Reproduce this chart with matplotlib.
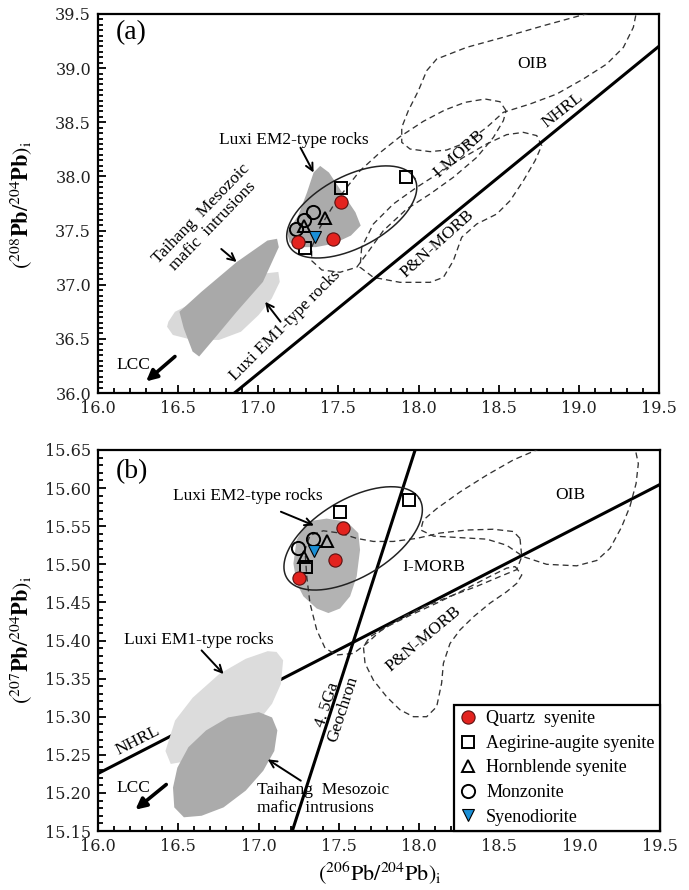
import numpy as np
import matplotlib
matplotlib.use('Agg')
import matplotlib.pyplot as plt
from matplotlib.patches import Polygon
from matplotlib.lines import Line2D
from matplotlib.ticker import MultipleLocator, FormatStrFormatter

plt.rcParams['mathtext.fontset'] = 'stix'
SERIF = 'Liberation Serif'
TICKFONT = 'DejaVu Serif'

# ---------------- panel (a): 206Pb/204Pb vs 208Pb/204Pb ----------------
a_qs_x = [17.246, 17.468, 17.516]
a_qs_y = [37.397, 37.419, 37.767]
a_aeg_x = [17.293, 17.516, 17.920]
a_aeg_y = [37.336, 37.890, 37.992]
a_hb_x = [17.287, 17.416]
a_hb_y = [37.540, 37.620]
a_mz_x = [17.235, 17.285, 17.343]
a_mz_y = [37.511, 37.598, 37.674]
a_sd_x = [17.356]
a_sd_y = [37.444]

a_taihang_x = [16.508, 16.645, 16.865, 17.057, 17.117, 17.128, 17.029, 16.865, 16.727, 16.631, 16.590, 16.535]
a_taihang_y = [36.750, 36.934, 37.209, 37.408, 37.424, 37.347, 37.026, 36.750, 36.505, 36.337, 36.383, 36.597]
a_em1_x = [16.439, 16.480, 16.645, 16.865, 17.029, 17.125, 17.134, 17.084, 17.002, 16.892, 16.755, 16.590, 16.467, 16.431]
a_em1_y = [36.658, 36.750, 36.873, 36.995, 37.102, 37.118, 37.026, 36.873, 36.720, 36.566, 36.490, 36.490, 36.536, 36.612]
a_em2_x = [17.386, 17.441, 17.523, 17.606, 17.639, 17.578, 17.469, 17.359, 17.249, 17.194, 17.180, 17.249, 17.304, 17.345]
a_em2_y = [38.097, 38.036, 37.852, 37.669, 37.546, 37.454, 37.378, 37.347, 37.347, 37.393, 37.485, 37.638, 37.852, 38.036]
a_oib_x = [19.12, 18.779, 18.529, 18.300, 18.113, 18.051, 17.999, 17.936, 17.895, 17.895, 17.947, 18.072, 18.176, 18.300,
           18.425, 18.529, 18.696, 18.862, 19.028, 19.174, 19.278, 19.340, 19.361]
a_oib_y = [39.531, 39.392, 39.285, 39.192, 39.084, 38.977, 38.792, 38.607, 38.453, 38.315, 38.253, 38.229, 38.244, 38.315,
           38.453, 38.592, 38.669, 38.761, 38.900, 39.038, 39.192, 39.377, 39.531]
a_imorb_x = [18.546, 18.508, 18.415, 18.290, 18.165, 18.030, 17.884, 17.749, 17.635, 17.552, 17.468, 17.385, 17.333,
             17.333, 17.396, 17.510, 17.614, 17.676, 17.780, 17.926, 18.072, 18.217, 18.363, 18.467, 18.529]
a_imorb_y = [38.607, 38.690, 38.715, 38.684, 38.614, 38.509, 38.367, 38.207, 38.053, 37.899, 37.730, 37.530, 37.345,
             37.222, 37.136, 37.115, 37.161, 37.284, 37.499, 37.699, 37.838, 37.992, 38.176, 38.361, 38.515]
a_pnmorb_x = [17.645, 17.635, 17.718, 17.884, 18.072, 18.155, 18.217, 18.269, 18.363, 18.488, 18.571, 18.654, 18.727,
              18.768, 18.737, 18.654, 18.550, 18.425, 18.280, 18.134, 17.988, 17.843, 17.718]
a_pnmorb_y = [37.345, 37.161, 37.068, 37.022, 37.022, 37.068, 37.222, 37.438, 37.561, 37.653, 37.776, 37.961, 38.146,
              38.284, 38.377, 38.407, 38.386, 38.300, 38.176, 38.038, 37.899, 37.746, 37.561]
a_ell_center = (17.583, 37.672)
a_ell_tip = (17.975, 37.983)

# ---------------- panel (b): 206Pb/204Pb vs 207Pb/204Pb ----------------
b_qs_x = [17.254, 17.474, 17.523]
b_qs_y = [15.482, 15.506, 15.548]
b_aeg_x = [17.298, 17.505, 17.937]
b_aeg_y = [15.497, 15.568, 15.584]
b_hb_x = [17.280, 17.425]
b_hb_y = [15.510, 15.531]
b_mz_x = [17.248, 17.337]
b_mz_y = [15.521, 15.533]
b_sd_x = [17.348]
b_sd_y = [15.518]

b_em2_x = [17.300, 17.424, 17.549, 17.621, 17.632, 17.611, 17.570, 17.507, 17.435, 17.362, 17.279, 17.237, 17.217, 17.237]
b_em2_y = [15.556, 15.560, 15.556, 15.541, 15.519, 15.484, 15.458, 15.442, 15.436, 15.442, 15.458, 15.475, 15.501, 15.532]
b_em1_x = [17.057, 17.112, 17.153, 17.139, 17.084, 17.002, 16.865, 16.700, 16.563, 16.453, 16.420, 16.480, 16.590, 16.755, 16.920]
b_em1_y = [15.386, 15.385, 15.374, 15.343, 15.317, 15.295, 15.273, 15.255, 15.242, 15.238, 15.255, 15.295, 15.325, 15.356, 15.376]
b_taihang_x = [17.002, 17.084, 17.117, 17.098, 17.029, 16.920, 16.782, 16.645, 16.535, 16.475, 16.467, 16.494, 16.563, 16.673, 16.810]
b_taihang_y = [15.306, 15.299, 15.282, 15.255, 15.229, 15.203, 15.181, 15.170, 15.168, 15.181, 15.207, 15.233, 15.260, 15.282, 15.299]
b_oib_x = [18.753, 18.587, 18.421, 18.255, 18.109, 18.026, 18.010, 18.089, 18.255, 18.421, 18.545, 18.649, 18.794,
           18.981, 19.106, 19.189, 19.261, 19.313, 19.351, 19.365, 19.345]
b_oib_y = [15.652, 15.637, 15.617, 15.595, 15.573, 15.558, 15.545, 15.537, 15.535, 15.533, 15.525, 15.510, 15.500,
           15.498, 15.505, 15.521, 15.549, 15.576, 15.606, 15.632, 15.652]
b_imorb_x = [18.628, 18.587, 18.462, 18.296, 18.130, 17.985, 17.839, 17.715, 17.611, 17.507, 17.403, 17.320, 17.289,
             17.300, 17.320, 17.362, 17.414, 17.486, 17.590, 17.673, 17.756, 17.881, 18.026, 18.192, 18.358, 18.504,
             18.608, 18.639]
b_imorb_y = [15.534, 15.543, 15.546, 15.545, 15.541, 15.534, 15.530, 15.530, 15.534, 15.541, 15.544, 15.538, 15.519,
             15.484, 15.449, 15.414, 15.390, 15.381, 15.383, 15.396, 15.412, 15.429, 15.444, 15.458, 15.471, 15.484,
             15.493, 15.510]
b_pnmorb_x = [18.598, 18.639, 18.608, 18.545, 18.441, 18.338, 18.255, 18.192, 18.151, 18.140, 18.109, 18.047, 17.964,
              17.881, 17.798, 17.715, 17.663, 17.653, 17.694, 17.798, 17.943, 18.109, 18.275, 18.421, 18.545]
b_pnmorb_y = [15.497, 15.486, 15.475, 15.464, 15.449, 15.431, 15.414, 15.396, 15.370, 15.344, 15.313, 15.300, 15.300,
              15.309, 15.326, 15.348, 15.370, 15.392, 15.405, 15.418, 15.433, 15.449, 15.466, 15.482, 15.495]
b_ell_center = (17.589, 15.534)
b_ell_tip = (18.002, 15.586)
geochron_x = [17.21, 17.975]
geochron_y = [15.15, 15.65]

# reference line NHRL (Hart 1984)
nhrl_a = (1.209, 15.627)
nhrl_b = (0.1084, 13.491)

legend_labels = ['Quartz  syenite', 'Aegirine-augite syenite', 'Hornblende syenite', 'Monzonite', 'Syenodiorite']

RED = '#e3231f'
BLUE = '#1a8fd6'

fig = plt.figure(figsize=(6.89, 8.90), dpi=100)
W, H = 689.0, 890.0
ax_a = fig.add_axes([98 / W, 1 - 393 / H, 561 / W, 379 / H])
ax_b = fig.add_axes([98 / W, 1 - 831 / H, 562 / W, 381 / H])


def style_axes(ax, ymaj, ymin, yfmt):
    ax.set_xlim(16.0, 19.5)
    ax.xaxis.set_major_locator(MultipleLocator(0.5))
    ax.xaxis.set_minor_locator(MultipleLocator(0.1))
    ax.yaxis.set_major_locator(MultipleLocator(ymaj))
    ax.yaxis.set_minor_locator(MultipleLocator(ymin))
    ax.xaxis.set_major_formatter(FormatStrFormatter('%.1f'))
    ax.yaxis.set_major_formatter(FormatStrFormatter(yfmt))
    ax.tick_params(which='both', direction='in', top=False, right=False, width=1.3, colors='black')
    ax.tick_params(which='major', length=6)
    ax.tick_params(which='minor', length=3.5)
    ax.tick_params(axis='both', which='major', labelsize=11.5, pad=5, labelcolor='#222222')
    for lab in ax.get_xticklabels() + ax.get_yticklabels():
        lab.set_fontfamily(TICKFONT)
    for sp in ax.spines.values():
        sp.set_linewidth(1.6)


def ellipse_xy(ax, center, tip, ratio, n=240):
    T = ax.transData
    c = T.transform(center)
    t = T.transform(tip)
    u = t - c
    v = np.array([-u[1], u[0]]) * ratio
    th = np.linspace(0, 2 * np.pi, n)
    pts = c + np.outer(np.cos(th), u) + np.outer(np.sin(th), v)
    return T.inverted().transform(pts)


def field(ax, xs, ys, **kw):
    ax.add_patch(Polygon(np.column_stack([xs, ys]), closed=True, **kw))


def dashed(ax, xs, ys):
    ax.add_patch(Polygon(np.column_stack([xs, ys]), closed=True, fill=False, ec='#333333',
                         lw=0.95, ls=(0, (4.5, 3)), zorder=3))


def samples(ax, qs, aeg, hb, mz, sd):
    ms = 9
    ax.plot(*aeg, ls='none', marker='s', ms=ms - 0.5, mfc='none', mec='black', mew=1.4, zorder=6)
    ax.plot(*mz, ls='none', marker='o', ms=ms + 0.5, mfc='none', mec='black', mew=1.4, zorder=6)
    ax.plot(*hb, ls='none', marker='^', ms=ms, mfc='none', mec='black', mew=1.4, zorder=6)
    ax.plot(*sd, ls='none', marker='v', ms=ms, mfc=BLUE, mec='black', mew=0.8, zorder=7)
    ax.plot(*qs, ls='none', marker='o', ms=ms + 0.5, mfc=RED, mec='#5a1010', mew=0.8, zorder=7)


def arrow(ax, tail, tip):
    ax.annotate('', xy=tip, xytext=tail,
                arrowprops=dict(arrowstyle='->', lw=1.4, color='black', shrinkA=0, shrinkB=0,
                                mutation_scale=13), zorder=8)


def fat_arrow(ax, tail, tip):
    ax.annotate('', xy=tip, xytext=tail,
                arrowprops=dict(arrowstyle='-|>', lw=2.6, color='black', shrinkA=0, shrinkB=0,
                                mutation_scale=16), zorder=8)


def txt(ax, x, y, s, size=12.5, rot=0, ha='center', va='center', **kw):
    ax.text(x, y, s, fontsize=size, rotation=rot, ha=ha, va=va, family=SERIF,
            rotation_mode='anchor', zorder=9, **kw)


# ======================= panel (a) =======================
ax = ax_a
style_axes(ax, 0.5, 0.05, '%.1f')
ax.set_ylim(36.0, 39.5)

field(ax, a_em1_x, a_em1_y, fc='#d9d9d9', ec='none', zorder=1)
field(ax, a_taihang_x, a_taihang_y, fc='#a9a9a9', ec='none', zorder=1.5)
field(ax, a_em2_x, a_em2_y, fc='#ababab', ec='none', zorder=1.5)
xx = np.array([16.0, 19.5])
ax.plot(xx, nhrl_a[0] * xx + nhrl_a[1], color='black', lw=2.2, zorder=4)
dashed(ax, a_oib_x, a_oib_y)
dashed(ax, a_imorb_x, a_imorb_y)
dashed(ax, a_pnmorb_x, a_pnmorb_y)
e = ellipse_xy(ax, a_ell_center, a_ell_tip, 0.5)
ax.plot(e[:, 0], e[:, 1], color='#222222', lw=1.1, zorder=5)
samples(ax, (a_qs_x, a_qs_y), (a_aeg_x, a_aeg_y), (a_hb_x, a_hb_y), (a_mz_x, a_mz_y), (a_sd_x, a_sd_y))

txt(ax, 16.21, 39.33, '(a)', size=20)
txt(ax, 18.71, 39.04, 'OIB')
txt(ax, 18.25, 38.21, 'I-MORB', rot=42)
txt(ax, 18.90, 38.61, 'NHRL', rot=38)
txt(ax, 18.12, 37.38, 'P&N-MORB', rot=42)
txt(ax, 17.22, 38.34, 'Luxi EM2-type rocks')
arrow(ax, (17.263, 38.266), (17.345, 38.036))
txt(ax, 16.68, 37.60, 'Taihang  Mesozoic\nmafic  intrusions', rot=46, linespacing=1.1)
arrow(ax, (16.769, 37.33), (16.865, 37.21))
txt(ax, 17.17, 36.62, 'Luxi EM1-type rocks', rot=45)
arrow(ax, (17.139, 36.658), (17.043, 36.842))
txt(ax, 16.22, 36.26, 'LCC')
fat_arrow(ax, (16.48, 36.337), (16.30, 36.107))

# ======================= panel (b) =======================
ax = ax_b
style_axes(ax, 0.05, 0.01, '%.2f')
ax.set_ylim(15.15, 15.65)

xx = np.array([16.0, 19.5])
ax.plot(xx, nhrl_b[0] * xx + nhrl_b[1], color='black', lw=2.2, zorder=1)
field(ax, b_em1_x, b_em1_y, fc='#dcdcdc', ec='none', zorder=1.2)
field(ax, b_taihang_x, b_taihang_y, fc='#ababab', ec='none', zorder=1.5)
field(ax, b_em2_x, b_em2_y, fc='#b3b3b3', ec='none', zorder=1.5)
ax.plot(geochron_x, geochron_y, color='black', lw=2.2, zorder=4)
dashed(ax, b_oib_x, b_oib_y)
dashed(ax, b_imorb_x, b_imorb_y)
dashed(ax, b_pnmorb_x, b_pnmorb_y)
e = ellipse_xy(ax, b_ell_center, b_ell_tip, 0.5)
ax.plot(e[:, 0], e[:, 1], color='#222222', lw=1.1, zorder=5)
samples(ax, (b_qs_x, b_qs_y), (b_aeg_x, b_aeg_y), (b_hb_x, b_hb_y), (b_mz_x, b_mz_y), (b_sd_x, b_sd_y))

txt(ax, 16.21, 15.621, '(b)', size=20)
txt(ax, 16.933, 15.589, 'Luxi EM2-type rocks')
arrow(ax, (17.139, 15.569), (17.345, 15.551))
txt(ax, 18.94, 15.591, 'OIB')
txt(ax, 18.09, 15.496, 'I-MORB')
txt(ax, 18.03, 15.402, 'P&N-MORB', rot=40)
txt(ax, 16.63, 15.40, 'Luxi EM1-type rocks')
arrow(ax, (16.645, 15.387), (16.782, 15.356))
txt(ax, 16.25, 15.268, 'NHRL', rot=27)
txt(ax, 17.476, 15.313, '4. 5Ga\nGeochron', rot=72, linespacing=1.0)
txt(ax, 16.22, 15.207, 'LCC')
fat_arrow(ax, (16.425, 15.211), (16.233, 15.178))
txt(ax, 16.99, 15.192, 'Taihang  Mesozoic\nmafic  intrusions', ha='left', linespacing=1.1)
arrow(ax, (17.263, 15.216), (17.057, 15.244))

handles = [
    Line2D([], [], ls='none', marker='o', ms=9.5, mfc=RED, mec='#5a1010', mew=0.8),
    Line2D([], [], ls='none', marker='s', ms=8.5, mfc='none', mec='black', mew=1.4),
    Line2D([], [], ls='none', marker='^', ms=9, mfc='none', mec='black', mew=1.4),
    Line2D([], [], ls='none', marker='o', ms=9.5, mfc='none', mec='black', mew=1.4),
    Line2D([], [], ls='none', marker='v', ms=9, mfc=BLUE, mec='black', mew=0.8),
]
leg = ax.legend(handles, legend_labels, loc='lower right', bbox_to_anchor=(1.0, 0.0), borderaxespad=0.0,
                frameon=True, fancybox=False, edgecolor='black', framealpha=1.0,
                prop={'family': SERIF, 'size': 13}, handlelength=1.0, handletextpad=0.5,
                labelspacing=0.42, borderpad=0.3)
leg.get_frame().set_linewidth(1.6)
leg.set_zorder(20)

# axis labels
fig.text(22 / W, 1 - 205 / H, r'$(^{208}\mathbf{Pb}/^{204}\mathbf{Pb})_\mathrm{i}$', rotation=90,
         ha='center', va='center', fontsize=16)
fig.text(22 / W, 1 - 640 / H, r'$(^{207}\mathbf{Pb}/^{204}\mathbf{Pb})_\mathrm{i}$', rotation=90,
         ha='center', va='center', fontsize=16)
fig.text(380 / W, 1 - 873 / H, r'$(^{206}\mathrm{Pb}/^{204}\mathrm{Pb})_\mathrm{i}$',
         ha='center', va='center', fontsize=16)

fig.savefig('out.png', dpi=100)
